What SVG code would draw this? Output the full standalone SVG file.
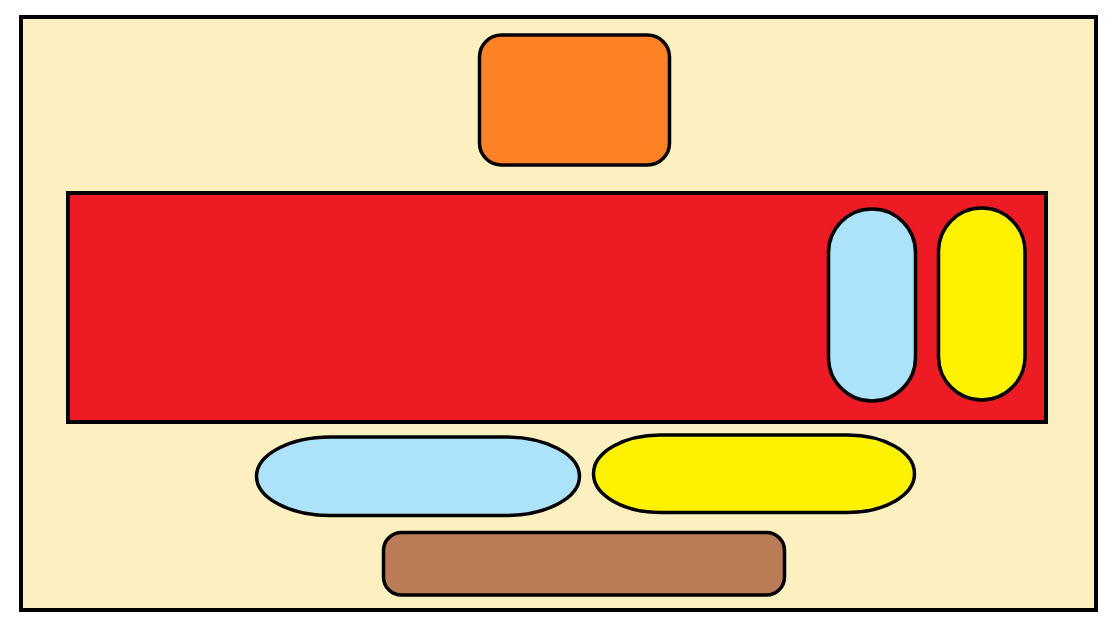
<svg xmlns="http://www.w3.org/2000/svg" width="1116" height="629" viewBox="0 0 1116 629">
<style>
.s{stroke:#000;stroke-width:3.5}
</style>
<rect width="1116" height="629" fill="#fff"/>
<g id="frame"><rect x="21" y="17" width="1075" height="593" fill="#FDF0C0" stroke="#000" stroke-width="4"/></g>
<g id="orange"><rect class="s" x="479.5" y="35" width="190" height="130" rx="22" fill="#FE8125"/></g>
<g id="red"><rect x="68" y="193" width="978" height="229" fill="#ED1C24" stroke="#000" stroke-width="4"/></g>
<g id="blue-v"><rect class="s" x="828.5" y="209" width="87" height="192" rx="43.5" fill="#ADE3FA"/></g>
<g id="yellow-v"><rect class="s" x="938.5" y="208" width="86.5" height="192" rx="43.25" fill="#FFF200"/></g>
<g id="blue-h"><rect class="s" x="256.5" y="437" width="323" height="78.5" rx="74" ry="39.25" fill="#ADE3FA"/></g>
<g id="yellow-h"><rect class="s" x="593.5" y="435" width="321" height="77.5" rx="67" ry="38.75" fill="#FFF200"/></g>
<g id="brown"><rect class="s" x="383.5" y="532.5" width="401" height="62.5" rx="18" fill="#B97C57"/></g>
<g id="connectors"></g>
</svg>
